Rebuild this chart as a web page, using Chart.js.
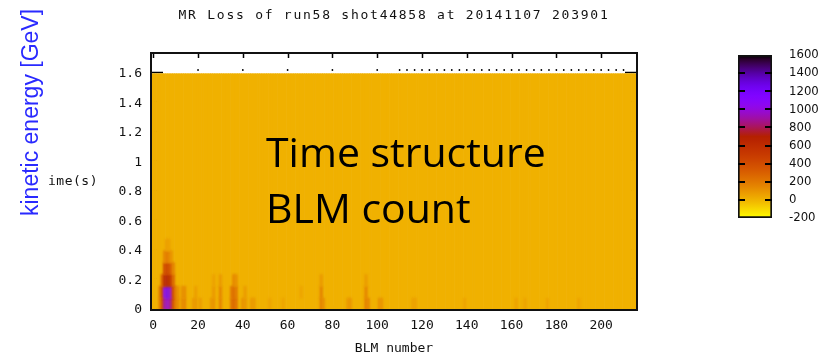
<!DOCTYPE html>
<html>
<head>
<meta charset="utf-8">
<title>MR Loss run58 shot44858</title>
<script src="https://cdn.jsdelivr.net/npm/chart.js@4.4.1/dist/chart.umd.min.js"></script>
<style>
  html, body { margin: 0; padding: 0; background: #fff; }
  #wrap { position: relative; width: 825px; height: 363px; }
  #loss { position: absolute; left: 0; top: 0; }
  #cbar { position: absolute; left: 700px; top: 0; }
</style>
</head>
<body>
<div id="wrap">
  <canvas id="loss" width="825" height="363"></canvas>
  <canvas id="cbar" width="125" height="363"></canvas>
</div>
<script>
// BLM index along the ring, time bins after injection (s)
const blmNumbers = Array.from({ length: 216 }, (_, i) => i)
const timeEdges = [0, 0.08, 0.16, 0.24, 0.32, 0.40, 0.48, 0.56, 0.64, 0.72, 0.80,
  0.88, 0.96, 1.04, 1.12, 1.20, 1.28, 1.36, 1.44, 1.52, 1.60]

// quiet level everywhere, then the cells that stand out: [blm, time bin, loss]
const baseLoss = 5
const lossCells = [
  [3, 0, 160], [4, 0, 420], [5, 0, 900], [6, 0, 980], [7, 0, 1000], [8, 0, 880], [9, 0, 420], [10, 0, 220],
  [3, 1, 180], [4, 1, 480], [5, 1, 1050], [6, 1, 1180], [7, 1, 1200], [8, 1, 1000], [9, 1, 460], [10, 1, 220],
  [4, 2, 300], [5, 2, 640], [6, 2, 720], [7, 2, 700], [8, 2, 600], [9, 2, 280],
  [5, 3, 400], [6, 3, 480], [7, 3, 460], [8, 3, 360], [9, 3, 160],
  [5, 4, 140], [6, 4, 200], [7, 4, 190], [8, 4, 110],
  [6, 5, 70], [7, 5, 60],
  [11, 0, 140], [11, 1, 120],
  [13, 0, 130], [14, 0, 150], [13, 1, 110], [14, 1, 130],
  [18, 0, 80], [19, 0, 90], [21, 0, 80], [19, 1, 70],
  [26, 0, 90], [27, 0, 110], [27, 1, 90], [27, 2, 60],
  [30, 0, 170], [30, 1, 160], [30, 2, 90],
  [35, 0, 220], [36, 0, 300], [37, 0, 240], [35, 1, 200], [36, 1, 280], [37, 1, 210],
  [36, 2, 160], [37, 2, 120],
  [40, 0, 110], [41, 0, 100], [41, 1, 80], [44, 0, 90], [45, 0, 80],
  [52, 0, 50], [58, 0, 45], [66, 1, 45],
  [75, 0, 190], [75, 1, 170], [75, 2, 90], [76, 0, 120],
  [87, 0, 90], [88, 0, 100],
  [95, 0, 180], [96, 0, 150], [95, 1, 160], [95, 2, 80],
  [101, 0, 110], [102, 0, 100],
  [116, 0, 60], [117, 0, 60], [139, 0, 50], [162, 0, 60], [166, 0, 50],
  [176, 0, 50], [190, 0, 50]
]

// marker row along the top of the energy window
const topDotLevel = 1.625
const topDots = [20, 40, 60, 80, 100, 110, 113.3, 116.7, 120, 123.3, 126.7, 130,
  133.3, 136.7, 140, 143.3, 146.7, 150, 153.3, 156.7, 160, 163.3, 166.7, 170,
  173.3, 176.7, 180, 183.3, 186.7, 190, 193.3, 196.7, 200, 203.3, 206.7, 210]

const lossMin = -200
const lossMax = 1600

const monoFont = "'DejaVu Sans Mono', 'Liberation Mono', monospace"

// gnuplot-like palette, reversed: yellow (low) -> orange -> red -> purple -> black (high)
function lossColor(v) {
  const t = Math.min(1, Math.max(0, (lossMax - v) / (lossMax - lossMin)))
  const r = Math.sqrt(t)
  const g = t * t * t
  const b = Math.max(0, Math.sin(2 * Math.PI * t))
  return `rgb(${Math.round(r * 255)},${Math.round(g * 255)},${Math.round(b * 255)})`
}

// inward ticks, frame and the free text around the plot
const gnuplotFrame = {
  id: 'gnuplotFrame',
  beforeDatasetsDraw(chart) {
    const { ctx, chartArea: a, scales } = chart
    ctx.save()
    ctx.strokeStyle = '#000'
    ctx.lineWidth = 1.5
    ctx.beginPath()
    scales.x.ticks.forEach(t => {
      const px = Math.round(scales.x.getPixelForValue(t.value)) + 0.5
      ctx.moveTo(px, a.top); ctx.lineTo(px, a.top + 5)
      ctx.moveTo(px, a.bottom); ctx.lineTo(px, a.bottom - 5)
    })
    scales.y.ticks.forEach(t => {
      const py = Math.round(scales.y.getPixelForValue(t.value)) - 1.5
      ctx.moveTo(a.left, py); ctx.lineTo(a.left + 12, py)
      ctx.moveTo(a.right, py); ctx.lineTo(a.right - 12, py)
    })
    ctx.stroke()
    ctx.restore()
  },
  // the interpolated loss cells come out soft
  beforeDatasetDraw(chart, args) {
    if (args.index === 1) {
      chart.ctx.save()
      chart.ctx.filter = 'blur(0.9px)'
    }
  },
  afterDatasetDraw(chart, args) {
    if (args.index === 1) chart.ctx.restore()
  },
  afterDatasetsDraw(chart) {
    const { ctx, chartArea: a } = chart
    ctx.save()
    ctx.strokeStyle = '#111'
    ctx.lineWidth = 2
    ctx.strokeRect(a.left, a.top, a.right - a.left, a.bottom - a.top)
    ctx.restore()
  },
  afterDraw(chart) {
    const { ctx, chartArea: a } = chart
    ctx.save()
    ctx.fillStyle = '#111'
    ctx.textBaseline = 'middle'
    ctx.font = `13px ${monoFont}`
    ctx.letterSpacing = '1.75px'
    ctx.textAlign = 'center'
    ctx.fillText('MR Loss of run58 shot44858 at 20141107 203901', (a.left + a.right) / 2, 16)
    ctx.letterSpacing = '0.5px'
    ctx.textAlign = 'left'
    ctx.fillText('ime(s)', 48, (a.top + a.bottom) / 2)
    ctx.letterSpacing = '0px'

    ctx.save()
    ctx.fillStyle = '#2a2aff'
    ctx.font = "23px 'Liberation Sans', Arial, sans-serif"
    ctx.textBaseline = 'alphabetic'
    ctx.translate(38, 216)
    ctx.rotate(-Math.PI / 2)
    ctx.fillText('kinetic energy [GeV]', 0, 0)
    ctx.restore()

    ctx.fillStyle = '#000'
    ctx.textBaseline = 'alphabetic'
    ctx.font = "41px 'Open Sans', 'Noto Sans', sans-serif"
    ctx.fillText('Time structure', 266, 167)
    ctx.fillText('BLM count', 266, 223)
    ctx.restore()
  }
}

const lossChart = new Chart(document.getElementById('loss'), {
  type: 'bar',
  data: {
    datasets: [
      {
        type: 'scatter',
        label: 'top',
        data: topDots.map(x => ({ x, y: topDotLevel })),
        pointRadius: 0.9,
        pointBackgroundColor: '#000',
        pointBorderWidth: 0,
        order: 0
      },
      {
        label: 'loss',
        data: lossCells.map(([blm, bin, v]) => ({ x: blm, y: [timeEdges[bin], timeEdges[bin + 1]], v })),
        backgroundColor: c => lossColor(c.raw ? c.raw.v : baseLoss),
        grouped: false,
        barPercentage: 1,
        categoryPercentage: 1,
        borderWidth: 0,
        order: 1
      },
      {
        label: 'base',
        data: blmNumbers.map(n => ({ x: n, y: [timeEdges[0], timeEdges[timeEdges.length - 1]] })),
        backgroundColor: lossColor(baseLoss),
        grouped: false,
        barPercentage: 1,
        categoryPercentage: 1,
        borderWidth: 0,
        order: 2
      }
    ]
  },
  options: {
    responsive: false,
    animation: false,
    devicePixelRatio: 1,
    layout: { padding: { top: 53, right: 188, left: 0, bottom: 0 } },
    plugins: {
      legend: { display: false },
      tooltip: { enabled: false }
    },
    scales: {
      x: {
        type: 'linear',
        min: -1,
        max: 216,
        offset: false,
        grid: { display: false, drawTicks: false, offset: false },
        border: { display: false },
        ticks: {
          stepSize: 20,
          includeBounds: false,
          padding: 8,
          maxRotation: 0,
          color: '#111',
          font: { family: monoFont, size: 13 }
        },
        title: {
          display: true,
          text: 'BLM number',
          color: '#111',
          font: { family: monoFont, size: 13 },
          padding: { top: 0, bottom: 7 }
        },
        afterFit: s => { s.height = 53 }
      },
      y: {
        type: 'linear',
        min: 0,
        max: 1.74,
        grid: { display: false, drawTicks: false },
        border: { display: false },
        ticks: {
          stepSize: 0.2,
          includeBounds: false,
          padding: 9,
          color: '#111',
          font: { family: monoFont, size: 13 },
          callback: v => String(+v.toFixed(1))
        },
        afterFit: s => { s.width = 151 }
      }
    }
  },
  plugins: [gnuplotFrame]
})

// colour box with inward ticks on both edges
const cbarTicks = {
  id: 'cbarTicks',
  afterDatasetsDraw(chart) {
    const { ctx, chartArea: a, scales } = chart
    ctx.save()
    ctx.strokeStyle = '#000'
    ctx.lineWidth = 2
    ctx.beginPath()
    scales.y.ticks.slice(1, -1).forEach(t => {
      const py = Math.round(scales.y.getPixelForValue(t.value))
      ctx.moveTo(a.left, py); ctx.lineTo(a.left + 7, py)
      ctx.moveTo(a.right, py); ctx.lineTo(a.right - 7, py)
    })
    ctx.stroke()
    ctx.restore()
  }
}

const cbarChart = new Chart(document.getElementById('cbar'), {
  type: 'bar',
  data: {
    labels: ['loss'],
    datasets: [{
      data: [[lossMin, lossMax]],
      backgroundColor: c => {
        const { chart } = c
        if (!chart.chartArea) return null
        const y = chart.scales.y
        const grad = chart.ctx.createLinearGradient(0, y.getPixelForValue(lossMin), 0, y.getPixelForValue(lossMax))
        for (let i = 0; i <= 36; i++) {
          grad.addColorStop(i / 36, lossColor(lossMin + i * (lossMax - lossMin) / 36))
        }
        return grad
      },
      borderColor: '#111',
      borderWidth: 2,
      borderSkipped: false,
      barPercentage: 1,
      categoryPercentage: 1
    }]
  },
  options: {
    responsive: false,
    animation: false,
    devicePixelRatio: 1,
    layout: { padding: { top: 55, left: 38, right: 0, bottom: 145 } },
    plugins: {
      legend: { display: false },
      tooltip: { enabled: false }
    },
    scales: {
      x: { display: false },
      y: {
        position: 'right',
        min: lossMin,
        max: lossMax,
        grid: { display: false, drawTicks: false },
        border: { display: false },
        ticks: {
          stepSize: 200,
          autoSkip: false,
          padding: 17,
          color: '#111',
          font: { family: "'Liberation Sans Narrow', 'DejaVu Sans Condensed', 'Liberation Sans', sans-serif", size: 13 },
          callback: v => String(v)
        },
        afterFit: s => { s.width = 53 }
      }
    }
  },
  plugins: [cbarTicks]
})
</script>
</body>
</html>
